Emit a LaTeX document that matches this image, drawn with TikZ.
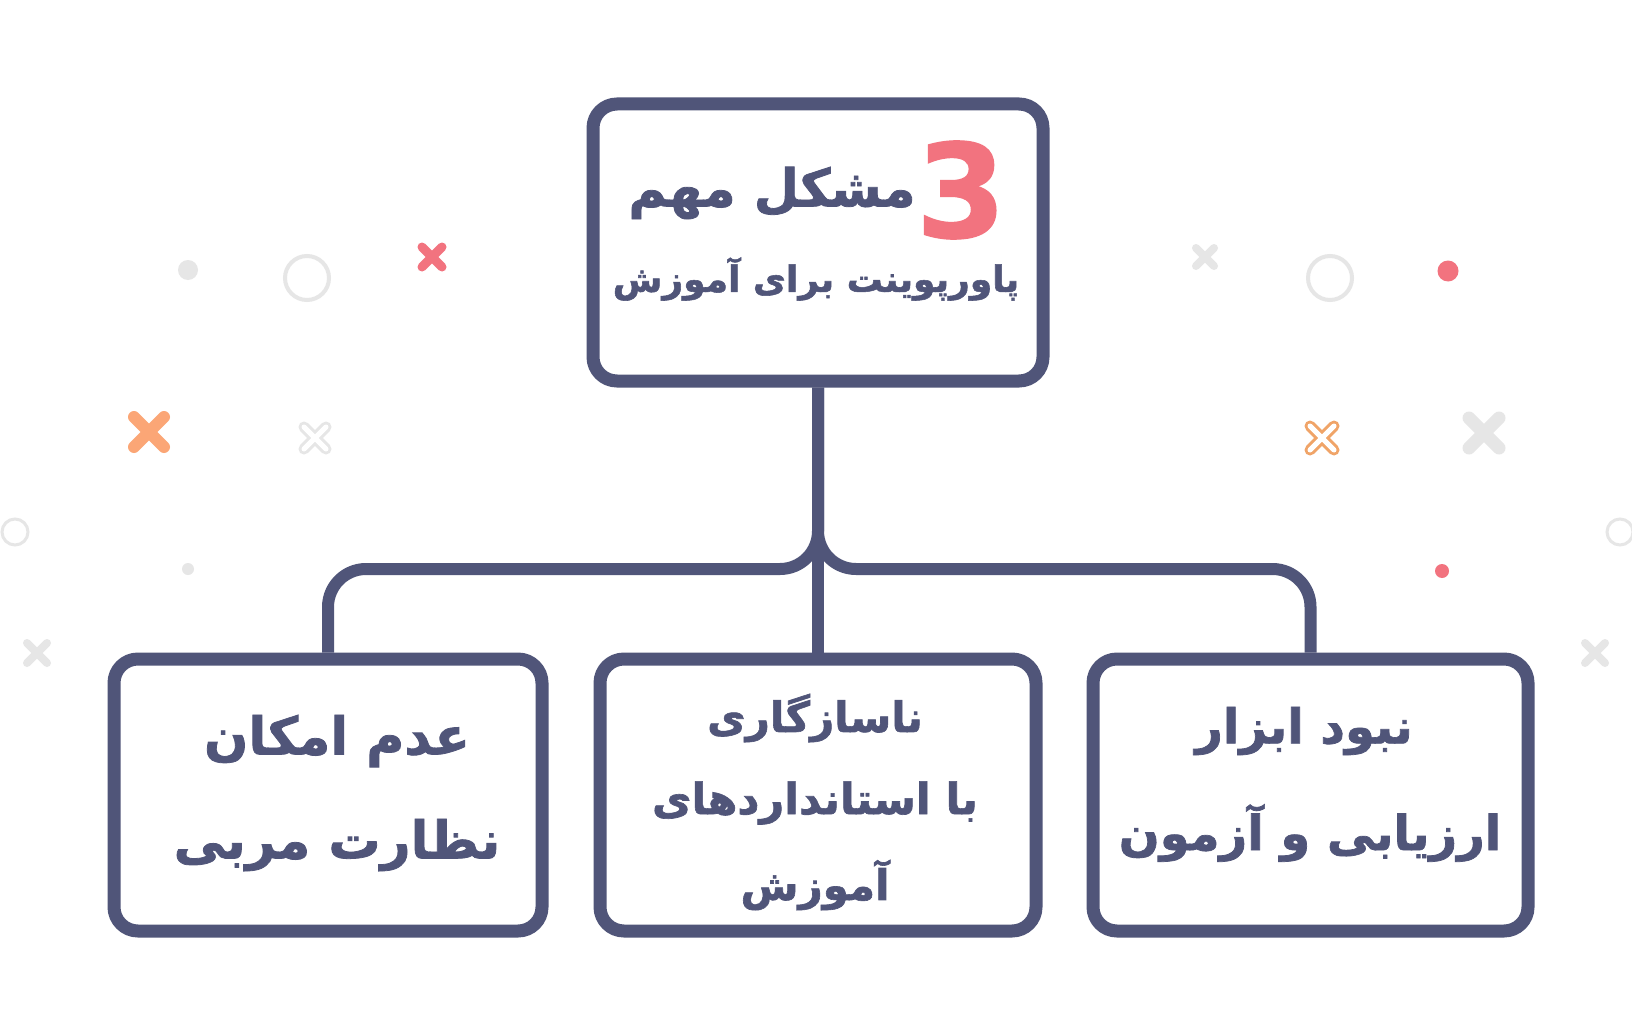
\documentclass[tikz,border=0pt]{standalone}
\usepackage{fontspec}
\TeXXeTstate=1
\newfontfamily\fa[Script=Arabic, BoldFeatures={FakeBold=1.5}]{DejaVu Sans}
\newfontfamily\numfont[BoldFeatures={FakeBold=1}]{DejaVu Sans}
\definecolor{navy}{HTML}{505579}
\definecolor{pinkc}{HTML}{F2737F}
\definecolor{orangec}{HTML}{FBA676}
\definecolor{orangeo}{HTML}{F0A468}
\definecolor{grayc}{HTML}{E6E6E6}
\newcommand\decox[5]{\draw[shift={(#1,#2)}, line width=#4, line cap=round, draw=#5] (-#3,-#3) -- (#3,#3) (-#3,#3) -- (#3,-#3);}
\tikzset{
  box/.style={draw=navy, line width=13pt, rounded corners=24pt, fill=white, inner sep=0pt},
  conn/.style={draw=navy, line width=12pt, rounded corners=38pt},
  txt/.style={text=navy, inner sep=0pt, font=\fa\bfseries},
}
\begin{document}
\begin{tikzpicture}[x=1pt,y=-1pt]
\useasboundingbox[fill=white] (0,0) rectangle (1632,1035);
% decorations
\fill[grayc] (188,270) circle (10);
\draw[grayc, line width=4] (307,278) circle (22);
\decox{432}{257}{10}{9}{pinkc}
\decox{149}{432}{15}{12}{orangec}
\decox{315}{438}{11}{11}{grayc}
\decox{315}{438}{11}{5}{white}
\decox{1205}{257}{9}{8}{grayc}
\draw[grayc, line width=4] (1330,278) circle (22);
\fill[pinkc] (1448,271) circle (10.5);
\decox{1322}{438}{12}{11}{orangeo}
\decox{1322}{438}{12}{5}{white}
\decox{1484}{433}{15}{13}{grayc}
\draw[grayc, line width=3] (15,532) circle (13);
\fill[grayc] (188,569) circle (6);
\decox{37}{653}{10}{8}{grayc}
\fill[pinkc] (1442,571) circle (7);
\draw[grayc, line width=3] (1620,532) circle (13);
\decox{1595}{653}{10}{8}{grayc}
% boxes
\node[box, minimum width=450pt, minimum height=277pt] (top) at (818,242.5) {};
\node[box, minimum width=428pt, minimum height=272pt] (left) at (328,795) {};
\node[box, minimum width=436pt, minimum height=272pt] (mid) at (818,795) {};
\node[box, minimum width=435pt, minimum height=272pt] (right) at (1310.5,795) {};
% connectors
\coordinate (bar) at (818,569);
\draw[conn] (top.south) -- (top.south |- bar) -| (left.north);
\draw[conn] (top.south) -- (top.south |- bar) -| (right.north);
\draw[conn, rounded corners=0pt] (top.south) -- (mid.north);
% texts
\node[inner sep=0pt, text=pinkc, font=\numfont\bfseries\fontsize{130}{130}\selectfont] (three) at (961,190) {3};
\node[txt, font=\fa\bfseries\fontsize{52}{60}\selectfont] (t1) at (772,193) {\beginR مشکل مهم\endR};
\node[txt, font=\fa\bfseries\fontsize{36}{44}\selectfont] (t2) at (816,279) {\beginR پاورپوینت برای آموزش\endR};
\node[txt, font=\fa\bfseries\fontsize{52}{60}\selectfont] (l1) at (337,741) {\beginR عدم امکان\endR};
\node[txt, font=\fa\bfseries\fontsize{52}{60}\selectfont] (l2) at (337,845) {\beginR نظارت مربی\endR};
\node[txt, font=\fa\bfseries\fontsize{42}{50}\selectfont] (m1) at (815,718) {\beginR ناسازگاری\endR};
\node[txt, font=\fa\bfseries\fontsize{43}{50}\selectfont] (m2) at (815,803) {\beginR با استانداردهای\endR};
\node[txt, font=\fa\bfseries\fontsize{42}{50}\selectfont] (m3) at (815,885) {\beginR آموزش\endR};
\node[txt, font=\fa\bfseries\fontsize{48}{56}\selectfont] (r1) at (1304,731) {\beginR نبود ابزار\endR};
\node[txt, font=\fa\bfseries\fontsize{48}{56}\selectfont] (r2) at (1310,833) {\beginR ارزیابی و آزمون\endR};
\end{tikzpicture}
\end{document}
